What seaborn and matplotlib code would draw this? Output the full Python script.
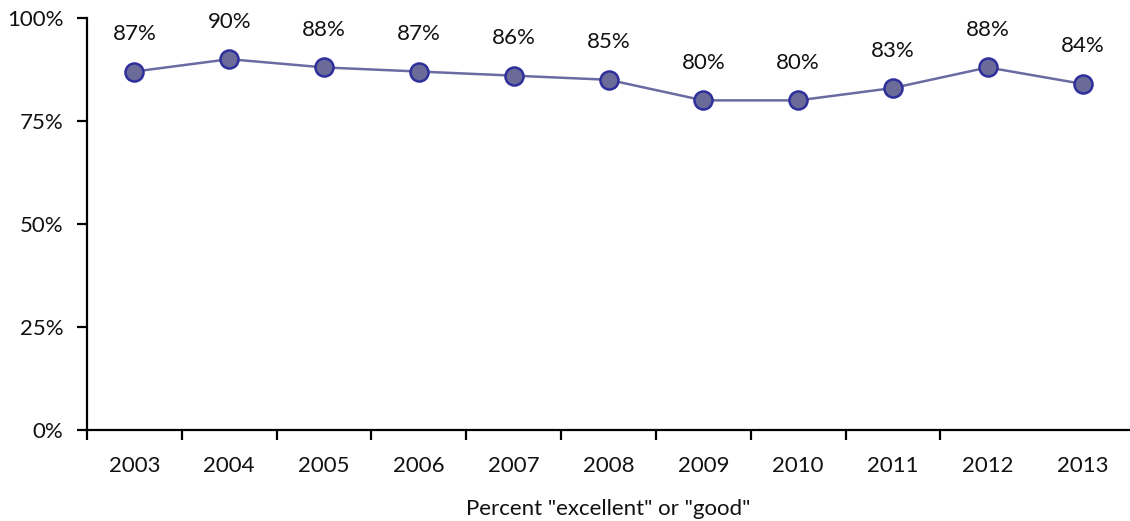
import matplotlib
matplotlib.use("Agg")
import matplotlib.pyplot as plt
import seaborn as sns
import pandas as pd
import numpy as np

years = ["2003", "2004", "2005", "2006", "2007", "2008", "2009", "2010", "2011", "2012", "2013"]
pct_excellent_good = [87, 90, 88, 87, 86, 85, 80, 80, 83, 88, 84]
y_ticks = [0, 25, 50, 75, 100]
x_title = 'Percent "excellent" or "good"'

sns.set_theme(style="white")
plt.rcParams["font.family"] = ["Lato", "DejaVu Sans"]

df = pd.DataFrame({"pos": np.arange(len(years)), "year": years, "pct": pct_excellent_good})

fig = plt.figure(figsize=(11.30, 5.21), dpi=100)
ax = fig.add_axes([0.077, 0.1747, 0.923, 0.7908])

sns.lineplot(data=df, x="pos", y="pct", ax=ax, color="#6b6ba3", linewidth=1.8,
             marker="o", markersize=13, markerfacecolor="#6b6b99",
             markeredgecolor="#2f2f9c", markeredgewidth=1.8)

for x, v in zip(df["pos"], df["pct"]):
    ax.annotate(f"{v}%", (x, v), xytext=(0, 27), textcoords="offset points",
                ha="center", va="center", fontsize=16, color="#111111")

ax.set_xlim(-0.5, len(years) - 0.5)
ax.set_ylim(0, 100)

ax.set_yticks(y_ticks)
ax.set_yticklabels([f"{t}%" for t in y_ticks], fontsize=16, color="#111111")

ax.set_xticks(np.arange(len(years) - 1) - 0.5)
ax.set_xticklabels([])
ax.set_xticks(np.arange(len(years)), minor=True)
ax.set_xticklabels(years, minor=True, fontsize=16, color="#111111")
ax.tick_params(axis="x", which="major", bottom=True, direction="out", length=7, width=1.6, color="black")
ax.tick_params(axis="x", which="minor", bottom=True, length=0, pad=19)
ax.tick_params(axis="y", left=True, direction="out", length=7, width=1.6, color="black", pad=10)

ax.set_xlabel(x_title, fontsize=16, color="#111111", labelpad=16)
ax.set_ylabel("")

sns.despine(ax=ax, top=True, right=True)
for s in ("left", "bottom"):
    ax.spines[s].set_color("black")
    ax.spines[s].set_linewidth(1.6)

fig.savefig("out.png", dpi=100, facecolor="white")
